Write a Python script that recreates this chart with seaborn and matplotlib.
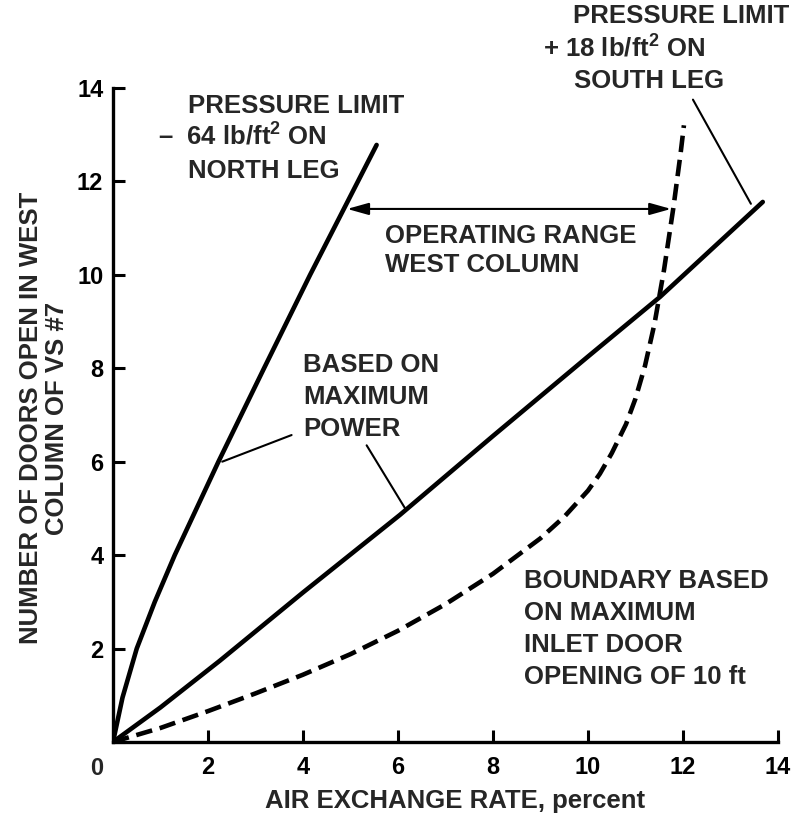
import matplotlib
matplotlib.use("Agg")
import matplotlib.pyplot as plt
import seaborn as sns
import pandas as pd

# ---- data ----
north_x = [0, 0.2, 0.5, 0.88, 1.3, 2.22, 3.18, 4.15, 4.86, 5.55]
north_y = [0, 0.95, 2.0, 3.0, 4.0, 6.0, 8.0, 10.0, 11.41, 12.78]

power_x = [0, 1.0, 2.25, 4.0, 6.04, 8.0, 10.0, 11.52, 13.68]
power_y = [0, 0.74, 1.74, 3.2, 4.86, 6.55, 8.25, 9.53, 11.56]

boundary_x = [0, 1.0, 2.0, 3.0, 4.0, 5.0, 6.0, 7.0, 8.0, 9.0, 9.5, 10.0,
              10.25, 10.5, 10.8, 11.0, 11.2, 11.4, 11.6, 11.8, 11.95, 12.02]
boundary_y = [0, 0.3, 0.66, 1.04, 1.44, 1.88, 2.38, 2.95, 3.6, 4.36, 4.82, 5.38,
              5.74, 6.18, 6.8, 7.35, 8.05, 8.95, 10.1, 11.45, 12.6, 13.2]

x_ticks = [0, 2, 4, 6, 8, 10, 12, 14]
y_ticks = [0, 2, 4, 6, 8, 10, 12, 14]
x_tick_labels = ["", "2", "4", "6", "8", "10", "12", "14"]
y_tick_labels = ["", "2", "4", "6", "8", "10", "12", "14"]

x_label = "AIR EXCHANGE RATE, percent"
y_label = "NUMBER OF DOORS OPEN IN WEST\nCOLUMN OF VS #7"

# ---- style ----
sns.set_style("ticks")
plt.rcParams["font.family"] = ["Liberation Sans", "DejaVu Sans"]
plt.rcParams["font.weight"] = "bold"
plt.rcParams["mathtext.fontset"] = "custom"
plt.rcParams["mathtext.rm"] = "Liberation Sans:bold"
plt.rcParams["mathtext.it"] = "Liberation Sans:bold"
plt.rcParams["mathtext.bf"] = "Liberation Sans:bold"
plt.rcParams["mathtext.default"] = "rm"

FS = 18.5
LW = 3.3

fig = plt.figure(figsize=(7.98, 8.15), dpi=100)
ax = fig.add_axes([0.1416, 0.0896, 0.8333, 0.8025])

north = pd.DataFrame({"x": north_x, "y": north_y})
power = pd.DataFrame({"x": power_x, "y": power_y})
boundary = pd.DataFrame({"x": boundary_x, "y": boundary_y})

sns.lineplot(data=north, x="x", y="y", ax=ax, color="black", lw=LW,
             estimator=None, sort=False)
sns.lineplot(data=power, x="x", y="y", ax=ax, color="black", lw=LW,
             estimator=None, sort=False)
sns.lineplot(data=boundary, x="x", y="y", ax=ax, color="black", lw=LW,
             estimator=None, sort=False, linestyle=(0, (3.6, 1.7)))

ax.set_xlim(0, 14)
ax.set_ylim(0, 14)
ax.set_xticks(x_ticks)
ax.set_yticks(y_ticks)
ax.set_xticklabels(x_tick_labels)
ax.set_yticklabels(y_tick_labels)
sns.despine(ax=ax)
for s in ["left", "bottom"]:
    ax.spines[s].set_linewidth(2.4)
    ax.spines[s].set_color("black")
ax.tick_params(direction="in", length=8.5, width=2.2, labelsize=17,
               colors="black")
ax.tick_params(axis="y", pad=7)
ax.tick_params(axis="x", pad=10)
for lab in ax.get_xticklabels() + ax.get_yticklabels():
    lab.set_fontweight("bold")

ax.annotate("0", xy=(0, 0), xycoords="data", xytext=(-11.5, -10.5),
            textcoords="offset points", ha="center", va="top",
            fontsize=17, fontweight="bold")

ax.set_xlabel(x_label, fontsize=FS, fontweight="bold")
ax.xaxis.set_label_coords(0.514, -0.072)
ax.set_ylabel(y_label, fontsize=FS, fontweight="bold", linespacing=1.1)
ax.yaxis.set_label_coords(-0.066, 0.495)


def lines_at(x, y0, lines, step=0.685):
    for i, s in enumerate(lines):
        ax.text(x, y0 - i * step, s, ha="left", va="baseline",
                fontsize=FS, fontweight="bold", clip_on=False)


# north leg label
ax.text(1.58, 13.46, "PRESSURE LIMIT", ha="left", va="baseline",
        fontsize=FS, fontweight="bold")
ax.text(0.95, 12.78, "–  64 lb/ft$^2$ ON", ha="left", va="baseline",
        fontsize=FS, fontweight="bold")
ax.text(1.58, 12.07, "NORTH LEG", ha="left", va="baseline",
        fontsize=FS, fontweight="bold")

# south leg label
ax.text(9.68, 15.39, "PRESSURE LIMIT", ha="left", va="baseline",
        fontsize=FS, fontweight="bold", clip_on=False)
ax.text(9.05, 14.67, "+ 18 lb/ft$^2$ ON", ha="left", va="baseline",
        fontsize=FS, fontweight="bold", clip_on=False)
ax.text(9.70, 14.0, "SOUTH LEG", ha="left", va="baseline",
        fontsize=FS, fontweight="bold", clip_on=False)

lines_at(5.73, 10.69, ["OPERATING RANGE", "WEST COLUMN"], step=0.63)
lines_at(4.0, 7.93, ["BASED ON", "MAXIMUM", "POWER"], step=0.695)
lines_at(8.65, 3.3, ["BOUNDARY BASED", "ON MAXIMUM", "INLET DOOR",
                     "OPENING OF 10 ft"])

leader = dict(arrowstyle="-", lw=1.5, color="black", shrinkA=0, shrinkB=0)
ax.annotate("", xy=(2.3, 6.0), xytext=(3.76, 6.57), arrowprops=leader)
ax.annotate("", xy=(6.15, 5.0), xytext=(5.34, 6.35), arrowprops=leader)
ax.annotate("", xy=(13.43, 11.52), xytext=(12.21, 13.75), arrowprops=leader,
            annotation_clip=False)

ax.annotate("", xy=(4.93, 11.41), xytext=(11.75, 11.41),
            arrowprops=dict(arrowstyle="<|-|>,head_length=1.0,head_width=0.28",
                            mutation_scale=13, lw=1.5, color="black",
                            shrinkA=0, shrinkB=0))

fig.savefig("out.png", dpi=100)
